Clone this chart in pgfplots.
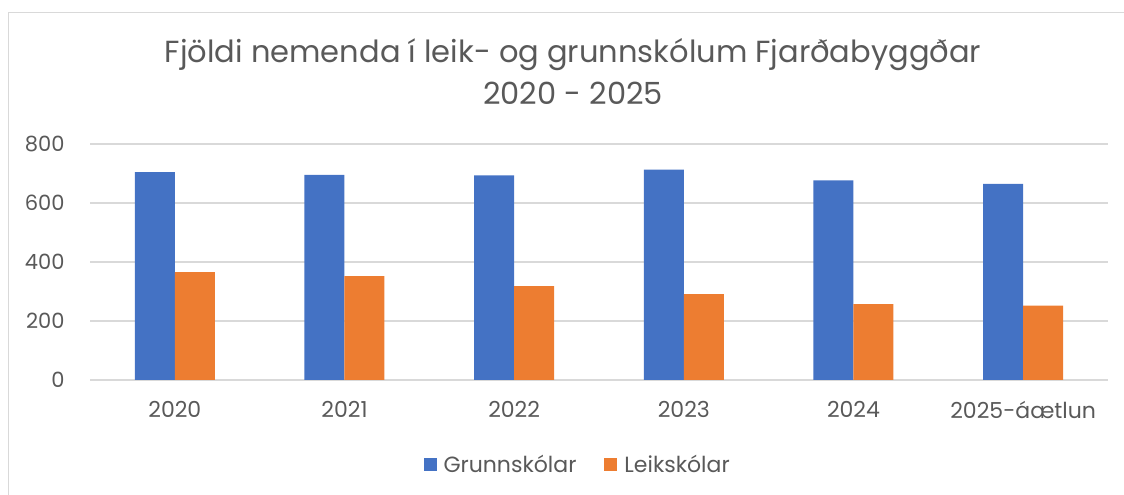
\documentclass[border=0pt]{standalone}
\usepackage{fontspec}
\setmainfont{Poppins}
\usepackage{pgfplots}
\pgfplotsset{compat=1.18}
\definecolor{cblue}{HTML}{4472C4}
\definecolor{corange}{HTML}{ED7D31}
\definecolor{txt}{HTML}{595959}
\definecolor{gridc}{HTML}{D9D9D9}
\begin{document}
\begin{tikzpicture}[x=1pt,y=1pt]
\useasboundingbox (0,0) rectangle (1124,495);
\draw[gridc, line width=1.5pt] (8.5,0) -- (8.5,482.5) -- (1124,482.5);
\node[txt, align=center, font=\fontsize{30.5}{42}\selectfont] at (573,423) {Fjöldi nemenda í leik- og grunnskólum Fjarðabyggðar\\2020 - 2025};
\begin{axis}[
  at={(90pt,115pt)}, anchor=south west,
  scale only axis, width=1018pt, height=236pt,
  ybar=0pt, bar width=40pt,
  xmin=-0.5, xmax=5.5, ymin=0, ymax=800,
  xtick=data, xticklabels={2020,2021,2022,2023,2024,2025-áætlun},
  ytick={0,200,...,800},
  axis line style={draw=none},
  major tick length=0pt,
  ymajorgrids, grid style={gridc, line width=1.5pt},
  tick label style={txt},
  xticklabel style={font=\fontsize{22}{26}\selectfont, yshift=-18pt},
  yticklabel style={font=\fontsize{21}{25}\selectfont, xshift=-22pt},
  /pgf/number format/assume math mode=true,
  legend style={at={(0.479,-0.358)}, anchor=center, legend columns=-1, draw=none, font=\fontsize{22}{26}\selectfont, text=txt, /tikz/every even column/.append style={column sep=26pt}},
  legend image code/.code={\fill[#1] (0pt,-6.5pt) rectangle (13pt,6.5pt); \path (18pt,0pt);},
]
\addplot[fill=cblue, draw=none] coordinates {(0,705) (1,695) (2,694) (3,713) (4,677) (5,665)};
\addplot[fill=corange, draw=none] coordinates {(0,366) (1,352) (2,318) (3,291) (4,257) (5,252)};
\legend{Grunnskólar, Leikskólar}
\end{axis}
\end{tikzpicture}
\end{document}
